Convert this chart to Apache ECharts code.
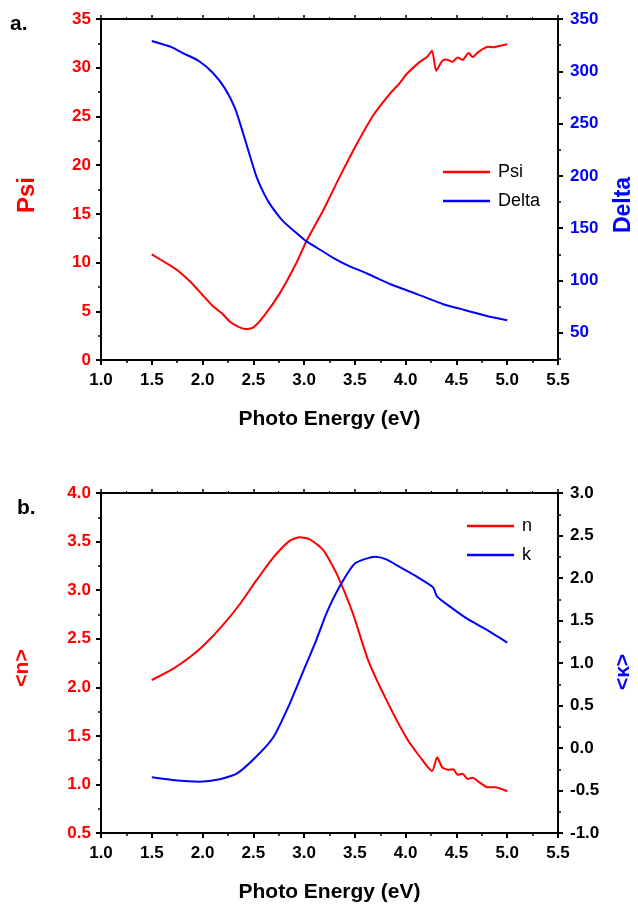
<!DOCTYPE html>
<html>
<head>
<meta charset="utf-8">
<script src="https://cdn.jsdelivr.net/npm/echarts@6/dist/echarts.min.js"></script>
<style>
html,body{margin:0;padding:0;background:#fff;}
#chart{width:638px;height:909px;}
</style>
</head>
<body>
<div id="chart"></div>
<script>
// ---- Data ----
const xTicks = [1.0,1.5,2.0,2.5,3.0,3.5,4.0,4.5,5.0,5.5];

const psiE = [1.50,1.70,1.75,1.88,2.00,2.10,2.19,2.27,2.35,2.42,2.50,2.60,2.76,2.93,3.02,3.19,3.35,3.52,3.68,3.85,3.94,4.01,4.14,4.21,4.26,4.30,4.36,4.40,4.46,4.51,4.56,4.62,4.66,4.72,4.81,4.86,4.94,5.00];
const psiV = [10.85,9.58,9.24,8.04,6.67,5.54,4.79,3.93,3.42,3.18,3.35,4.45,6.84,10.09,12.14,15.4,18.8,22.2,25.1,27.4,28.4,29.35,30.6,31.1,31.75,29.7,30.7,30.85,30.6,31.06,30.8,31.5,31.1,31.65,32.16,32.1,32.27,32.4];

const deltaE = [1.50,1.70,1.81,1.96,2.10,2.22,2.32,2.40,2.47,2.53,2.60,2.66,2.79,2.93,3.02,3.19,3.29,3.45,3.62,3.85,4.01,4.37,4.53,4.80,5.00];
const deltaV = [328.9,322.9,317.2,310.1,298.6,283.7,264.5,240.6,218,199.5,184,173.5,157,144.9,137.6,127.5,121.5,113.5,106.7,96.4,90.7,77.3,73.1,66.1,62];

const nE = [1.50,1.70,1.88,2.01,2.20,2.37,2.53,2.70,2.86,2.96,3.06,3.19,3.32,3.48,3.63,3.81,4.01,4.14,4.26,4.31,4.36,4.42,4.47,4.51,4.56,4.61,4.66,4.73,4.81,4.88,5.00];
const nV = [2.075,2.185,2.315,2.43,2.64,2.86,3.10,3.34,3.51,3.544,3.52,3.41,3.17,2.76,2.28,1.87,1.475,1.285,1.138,1.28,1.176,1.15,1.155,1.10,1.11,1.056,1.07,1.018,0.97,0.97,0.93];

const kE = [1.50,1.70,1.97,2.17,2.34,2.53,2.70,2.86,2.99,3.12,3.22,3.35,3.50,3.70,3.81,3.94,4.11,4.27,4.31,4.44,4.60,4.80,5.00];
const kV = [-0.345,-0.376,-0.396,-0.368,-0.298,-0.10,0.133,0.526,0.898,1.27,1.585,1.90,2.17,2.25,2.22,2.13,2.015,1.89,1.78,1.66,1.525,1.39,1.24];

const deltaMajor = [50,100,150,200,250,300,350];
const deltaMinor = [25,75,125,175,225,275,325];

// ---- Chart ----
const FONT = 'Arial, "Liberation Sans", Helvetica, sans-serif';
const RED = '#ff0000', BLUE = '#0000ff', BLACK = '#000000';
const pairs = (xs, ys) => xs.map((x, i) => [x, ys[i]]);

const lineStyleAxis = { color: BLACK, width: 2 };

function xBottom(gridIndex) {
  return {
    type: 'value', gridIndex, position: 'bottom', min: 1, max: 5.5, interval: 0.5,
    axisLine: { show: true, onZero: false, lineStyle: lineStyleAxis },
    axisTick: { show: true, inside: false, length: 5, lineStyle: { color: BLACK, width: 2 } },
    minorTick: { show: true, splitNumber: 2, length: 3, lineStyle: { color: BLACK, width: 1.5 } },
    splitLine: { show: false },
    axisLabel: { show: true, color: BLACK, fontFamily: FONT, fontWeight: 'bold', fontSize: 17, margin: 12,
      formatter: v => v.toFixed(1) },
    name: 'Photo Energy (eV)', nameLocation: 'middle', nameGap: 49,
    nameTextStyle: { color: BLACK, fontFamily: FONT, fontWeight: 'bold', fontSize: 21 }
  };
}
function xTop(gridIndex) {
  return {
    type: 'value', gridIndex, position: 'top', min: 1, max: 5.5, interval: 0.5,
    axisLine: { show: true, onZero: false, lineStyle: lineStyleAxis },
    axisTick: { show: true, inside: false, length: 4, lineStyle: { color: BLACK, width: 1.5 } },
    minorTick: { show: true, splitNumber: 2, length: 2, lineStyle: { color: BLACK, width: 1 } },
    splitLine: { show: false },
    axisLabel: { show: false }
  };
}
function yAxisBase(gridIndex, position, labelColor, margin) {
  return {
    type: 'value', gridIndex, position,
    axisLine: { show: true, onZero: false, lineStyle: lineStyleAxis },
    axisTick: { show: true, inside: false, length: 5, lineStyle: { color: BLACK, width: 2 } },
    minorTick: { show: true, splitNumber: 2, length: 3, lineStyle: { color: BLACK, width: 1.5 } },
    splitLine: { show: false },
    axisLabel: { color: labelColor, fontFamily: FONT, fontWeight: 'bold', fontSize: 17, margin }
  };
}

const yPsi = Object.assign(yAxisBase(0, 'left', RED, 10), { min: 0, max: 35, interval: 5 });
const yDelta = Object.assign(yAxisBase(0, 'right', BLUE, 12), { min: 24, max: 350 });
yDelta.axisTick.customValues = deltaMajor;
yDelta.axisLabel.customValues = deltaMajor;
yDelta.minorTick = { show: false };
const yDeltaMinor = {
  type: 'value', gridIndex: 0, position: 'right', min: 24, max: 350,
  axisLine: { show: false },
  axisTick: { show: true, inside: false, length: 3, customValues: deltaMinor, lineStyle: { color: BLACK, width: 1.5 } },
  axisLabel: { show: false }, splitLine: { show: false }
};
const yN = Object.assign(yAxisBase(1, 'left', RED, 10), { min: 0.5, max: 4.0, interval: 0.5 });
yN.axisLabel.formatter = v => v.toFixed(1);
const yK = Object.assign(yAxisBase(1, 'right', BLACK, 12), { min: -1.0, max: 3.0, interval: 0.5 });
yK.axisLabel.formatter = v => v.toFixed(1);

function lineSeries(name, data, xi, yi, color) {
  return {
    name, type: 'line', data, xAxisIndex: xi, yAxisIndex: yi,
    symbol: 'none', smooth: 0.2, clip: false,
    lineStyle: { color, width: 2 }, itemStyle: { color }
  };
}

const legendCommon = {
  orient: 'vertical', icon: 'rect', itemWidth: 47, itemHeight: 2.5, itemGap: 11,
  textStyle: { color: BLACK, fontFamily: FONT, fontSize: 18, padding: [0, 0, 0, 3] },
  selectedMode: false
};

function rotText(text, x, y, color, size) {
  return {
    type: 'text', x, y, rotation: Math.PI / 2,
    style: { text, fill: color, font: 'bold ' + size + 'px ' + FONT, align: 'center', verticalAlign: 'middle' }
  };
}

const chart = echarts.init(document.getElementById('chart'), null, { renderer: 'canvas' });
chart.setOption({
  backgroundColor: '#ffffff',
  animation: false,
  grid: [
    { left: 101, top: 19, width: 457, height: 341 },
    { left: 101, top: 493, width: 457, height: 340 }
  ],
  xAxis: [xBottom(0), xTop(0), xBottom(1), xTop(1)],
  yAxis: [yPsi, yDelta, yDeltaMinor, yN, yK],
  legend: [
    Object.assign({}, legendCommon, { data: ['Psi', 'Delta'], left: 438, top: 158 }),
    Object.assign({}, legendCommon, { data: ['n', 'k'], left: 462, top: 512 })
  ],
  title: [
    { text: 'a.', left: 5, top: 9, textStyle: { color: BLACK, fontFamily: FONT, fontWeight: 'bold', fontSize: 21 } },
    { text: 'b.', left: 12, top: 493, textStyle: { color: BLACK, fontFamily: FONT, fontWeight: 'bold', fontSize: 21 } }
  ],
  graphic: [
    rotText('Psi', 27, 195, RED, 24),
    rotText('Delta', 624, 205, BLUE, 23),
    rotText('<n>', 22, 668, RED, 21),
    rotText('<κ>', 623, 672, BLUE, 21)
  ],
  series: [
    lineSeries('Psi', pairs(psiE, psiV), 0, 0, RED),
    lineSeries('Delta', pairs(deltaE, deltaV), 0, 1, BLUE),
    lineSeries('n', pairs(nE, nV), 2, 3, RED),
    lineSeries('k', pairs(kE, kV), 2, 4, BLUE)
  ]
});
</script>
</body>
</html>
